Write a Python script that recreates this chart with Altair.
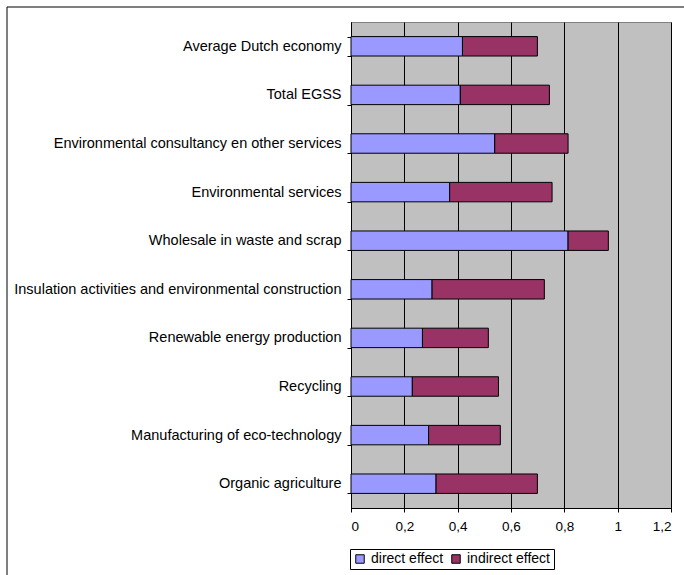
import altair as alt
import pandas as pd

sectors = [
    "Average Dutch economy",
    "Total EGSS",
    "Environmental consultancy en other services",
    "Environmental services",
    "Wholesale in waste and scrap",
    "Insulation activities and environmental construction",
    "Renewable energy production",
    "Recycling",
    "Manufacturing of eco-technology",
    "Organic agriculture",
]
direct_effect = [0.418, 0.410, 0.539, 0.370, 0.814, 0.304, 0.268, 0.230, 0.291, 0.319]
indirect_effect = [0.281, 0.334, 0.275, 0.384, 0.151, 0.421, 0.247, 0.323, 0.269, 0.380]
effect_types = ["direct effect", "indirect effect"]
effect_colors = ["#9999FF", "#993366"]

rows = []
for s, d, i in zip(sectors, direct_effect, indirect_effect):
    rows.append({"sector": s, "effect": effect_types[0], "value": d, "rank": 0})
    rows.append({"sector": s, "effect": effect_types[1], "value": i, "rank": 1})
df = pd.DataFrame(rows)

FONT = "Liberation Sans"

bars = alt.Chart(df).mark_bar(stroke="black", strokeWidth=1).encode(
    x=alt.X(
        "value:Q",
        stack="zero",
        scale=alt.Scale(domain=[0, 1.2], nice=False),
        axis=alt.Axis(
            values=[0, 0.2, 0.4, 0.6, 0.8, 1.0, 1.2],
            labelExpr="replace(format(datum.value, '.1~f'), '.', ',')",
            title=None,
            grid=True,
            gridColor="black",
            gridOpacity=1,
            gridWidth=1,
            domainColor="black",
            tickColor="black",
            tickSize=4,
            labelPadding=7,
            labelFont=FONT,
            labelFontSize=13.5,
            labelColor="black",
        ),
    ),
    y=alt.Y(
        "sector:N",
        sort=sectors,
        scale=alt.Scale(paddingInner=0.6, paddingOuter=0.3),
        axis=alt.Axis(
            title=None,
            tickBand="extent",
            grid=False,
            domainColor="black",
            tickColor="black",
            tickSize=4,
            labelPadding=6,
            labelFont=FONT,
            labelFontSize=14.5,
            labelColor="black",
            labelLimit=400,
        ),
    ),
    color=alt.Color(
        "effect:N",
        scale=alt.Scale(domain=effect_types, range=effect_colors),
        legend=alt.Legend(
            title=None,
            orient="none",
            legendX=-1,
            legendY=527,
            direction="horizontal",
            symbolType="square",
            symbolSize=72,
            symbolStrokeColor="black",
            symbolStrokeWidth=1,
            labelFont=FONT,
            labelFontSize=14,
            labelColor="black",
            columnPadding=5,
            labelOffset=4,
            padding=3,
            strokeColor="black",
            fillColor="white",
        ),
    ),
    order=alt.Order("rank:Q"),
)

# outer chart border: only its top and left edges fall on the page
edge = pd.DataFrame({"k": [0]})
frame_top = alt.Chart(edge).mark_rule(color="black", strokeWidth=1).encode(
    x=alt.value(-344), x2=alt.value(333), y=alt.value(-15)
)
frame_left = alt.Chart(edge).mark_rule(color="black", strokeWidth=1).encode(
    x=alt.value(-344), y=alt.value(-15), y2=alt.value(553)
)

chart = (
    alt.layer(frame_top, frame_left, bars)
    .properties(
        width=320,
        height=486,
        autosize=alt.AutoSizeParams(type="none"),
        padding={"left": 351, "top": 22, "right": 13, "bottom": 67},
        background="white",
    )
    .configure_view(fill="#C0C0C0", stroke="#808080", strokeWidth=1)
)

chart.save("out.html", embed_options={"renderer": "svg", "actions": False})
